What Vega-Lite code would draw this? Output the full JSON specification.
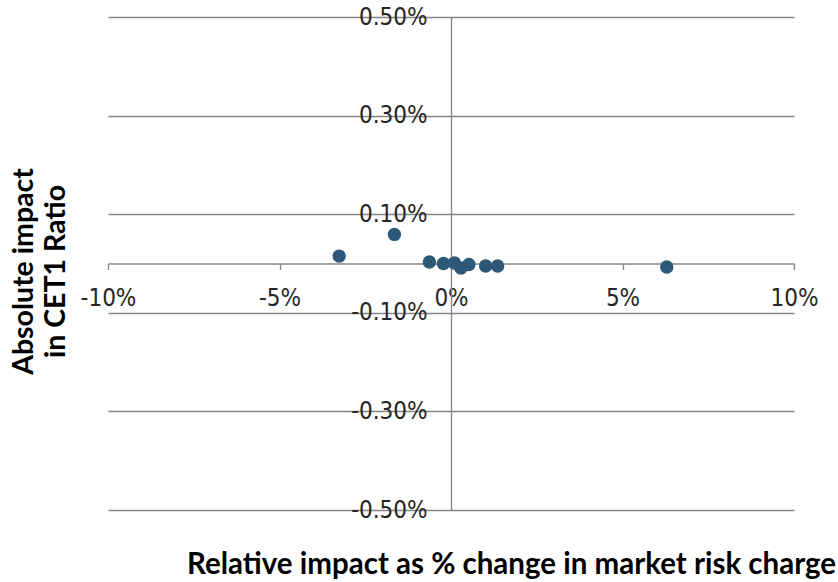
{
  "$schema": "https://vega.github.io/schema/vega-lite/v6.json",
  "width": 686,
  "height": 493,
  "autosize": {"type": "none"},
  "padding": {"left": 108, "top": 17, "right": 44, "bottom": 72},
  "background": "white",
  "config": {"view": {"stroke": null}},
  "data": {"values": [
    {"rel": -3.26, "abs": 0.015},
    {"rel": -1.65, "abs": 0.059},
    {"rel": -0.63, "abs": 0.003},
    {"rel": -0.22, "abs": 0.000},
    {"rel": 0.10, "abs": 0.001},
    {"rel": 0.29, "abs": -0.009},
    {"rel": 0.52, "abs": -0.002},
    {"rel": 1.01, "abs": -0.005},
    {"rel": 1.36, "abs": -0.005},
    {"rel": 6.29, "abs": -0.007}
  ]},
  "layer": [
    {
      "mark": {"type": "circle", "opacity": 0},
      "encoding": {
        "x": {"field": "rel", "type": "quantitative", "scale": {"domain": [-10, 10], "nice": false},
          "axis": {"orient": "bottom", "grid": false, "domain": false, "ticks": false, "labels": false,
            "title": "Relative impact as % change in market risk charge",
            "titleFont": "Lato", "titleFontSize": 29.5, "titleFontWeight": "bold", "titleColor": "#000000",
            "titleX": 403, "titleAlign": "center", "titlePadding": 40}},
        "y": {"field": "abs", "type": "quantitative", "scale": {"domain": [-0.5, 0.5], "nice": false},
          "axis": {"orient": "left", "grid": true, "gridColor": "#868686", "gridWidth": 1.3, "gridOpacity": 1,
            "values": [-0.5, -0.3, -0.1, 0.1, 0.3, 0.5],
            "domain": false, "ticks": false, "labels": false,
            "title": ["Absolute impact", "in CET1 Ratio"],
            "titleFont": "Lato", "titleFontSize": 28.5, "titleFontWeight": "bold", "titleColor": "#000000",
            "titleLineHeight": 32, "titleY": 254, "titlePadding": 38}}
      }
    },
    {
      "mark": {"type": "circle", "size": 180, "color": "#2D5878", "opacity": 1},
      "encoding": {
        "x": {"field": "rel", "type": "quantitative", "scale": {"domain": [-10, 10], "nice": false},
          "axis": {"orient": "bottom", "offset": -246.5, "grid": false, "values": [-10, -5, 0, 5, 10],
            "domain": true, "domainColor": "#868686", "domainWidth": 1.3,
            "ticks": true, "tickColor": "#868686", "tickSize": 6, "tickWidth": 1.3,
            "labelFlush": false, "labelOverlap": false,
            "labelExpr": "datum.value + '%'", "labelFont": "Liberation Sans Narrow, DejaVu Sans Condensed, sans-serif",
            "labelFontSize": 24, "labelColor": "#262626", "labelPadding": 17, "title": null}},
        "y": {"field": "abs", "type": "quantitative", "scale": {"domain": [-0.5, 0.5], "nice": false},
          "axis": {"orient": "left", "offset": -343, "grid": false, "values": [-0.5, -0.3, -0.1, 0.1, 0.3, 0.5],
            "domain": true, "domainColor": "#868686", "domainWidth": 1.3,
            "ticks": false, "labelFlush": false, "labelOverlap": false,
            "labelExpr": "replace(format(datum.value, '.2f'), '\u2212', '-') + '%'",
            "labelFont": "Liberation Sans Narrow, DejaVu Sans Condensed, sans-serif",
            "labelFontSize": 24, "labelColor": "#262626", "labelPadding": 24, "title": null}}
      }
    }
  ],
  "resolve": {"axis": {"x": "independent", "y": "independent"}}
}
